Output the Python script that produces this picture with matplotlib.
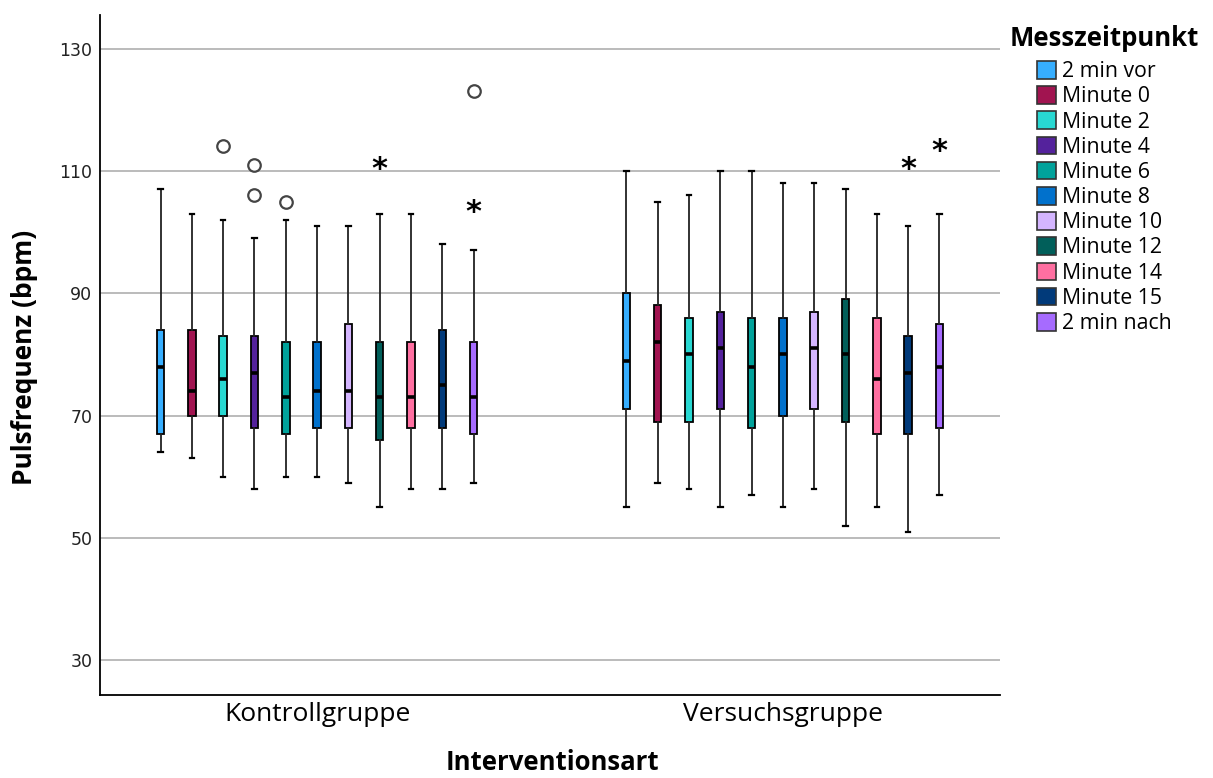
import matplotlib
matplotlib.use("Agg")
import matplotlib.pyplot as plt
from matplotlib.patches import Patch

# ---- data -------------------------------------------------------------
groups = ["Kontrollgruppe", "Versuchsgruppe"]
timepoints = ["2 min vor", "Minute 0", "Minute 2", "Minute 4", "Minute 6",
              "Minute 8", "Minute 10", "Minute 12", "Minute 14",
              "Minute 15", "2 min nach"]
colors = ["#36AEFF", "#A11450", "#28D8D2", "#54229C", "#01A29B",
          "#0171CC", "#D4B5FF", "#015F5A", "#FF6FA1", "#013A7A", "#A66BFF"]

# Kontrollgruppe: whisker low, Q1, median, Q3, whisker high
kg_low = [64, 63, 60, 58, 60, 60, 59, 55, 58, 58, 59]
kg_q1 = [67, 70, 70, 68, 67, 68, 68, 66, 68, 68, 67]
kg_med = [78, 74, 76, 77, 73, 74, 74, 73, 73, 75, 73]
kg_q3 = [84, 84, 83, 83, 82, 82, 85, 82, 82, 84, 82]
kg_high = [107, 103, 102, 99, 102, 101, 101, 103, 103, 98, 97]

# Versuchsgruppe
vg_low = [55, 59, 58, 55, 57, 55, 58, 52, 55, 51, 57]
vg_q1 = [71, 69, 69, 71, 68, 70, 71, 69, 67, 67, 68]
vg_med = [79, 82, 80, 81, 78, 80, 81, 80, 76, 77, 78]
vg_q3 = [90, 88, 86, 87, 86, 86, 87, 89, 86, 83, 85]
vg_high = [110, 105, 106, 110, 110, 108, 108, 107, 103, 101, 103]

# outliers (circles) and extreme values (asterisks): (group, timepoint index, value)
outliers = [(0, 2, 114), (0, 3, 111), (0, 3, 106), (0, 4, 105), (0, 10, 123)]
extremes = [(0, 7, 111), (0, 10, 104), (1, 9, 111), (1, 10, 114)]

yticks = [30, 50, 70, 90, 110, 130]

# ---- figure -----------------------------------------------------------
fig = plt.figure(figsize=(12.13, 7.78), dpi=100)
ax = fig.add_axes([100 / 1213, 1 - 695 / 778, 900 / 1213, 680 / 778])

step = 0.0672
box_w = 0.016

def pos(g, i):
    return g + (i - (len(timepoints) - 1) / 2) * step

stats_by_group = [
    (kg_low, kg_q1, kg_med, kg_q3, kg_high),
    (vg_low, vg_q1, vg_med, vg_q3, vg_high),
]

for g, (lo, q1, med, q3, hi) in enumerate(stats_by_group):
    for i in range(len(timepoints)):
        st = [dict(whislo=lo[i], q1=q1[i], med=med[i], q3=q3[i],
                   whishi=hi[i], fliers=[])]
        ax.bxp(st, positions=[pos(g, i)], widths=box_w, patch_artist=True,
               showfliers=False, manage_ticks=False,
               boxprops=dict(facecolor=colors[i], edgecolor="black", linewidth=1.3),
               medianprops=dict(color="black", linewidth=2.6, solid_capstyle="butt"),
               whiskerprops=dict(color="#222222", linewidth=1.3),
               capprops=dict(color="black", linewidth=1.6),
               capwidths=box_w * 0.6, zorder=3)

for g, i, v in outliers:
    ax.plot(pos(g, i), v, marker="o", markersize=9, markerfacecolor="white",
            markeredgecolor="#444444", markeredgewidth=1.6, linestyle="none", zorder=4)
for g, i, v in extremes:
    ax.text(pos(g, i), v - 0.8, "*", ha="center", va="center", fontsize=22,
            fontweight="bold", family="DejaVu Sans", zorder=4)

# ---- axes styling -----------------------------------------------------
ax.set_xlim(-0.466, 1.466)
ax.set_ylim(24.3, 135.5)
ax.set_yticks(yticks)
ax.set_yticklabels([str(t) for t in yticks], fontsize=12.5, color="#222222",
                   family="DejaVu Sans")
ax.tick_params(axis="y", length=0, pad=5.5)
ax.set_xticks([0, 1])
ax.set_xticklabels(groups, fontsize=19, family="Open Sans")
ax.tick_params(axis="x", length=0, pad=5)
ax.yaxis.grid(True, color="#B5B5B5", linewidth=1.3)
ax.set_axisbelow(True)
for s in ["top", "right"]:
    ax.spines[s].set_visible(False)
for s in ["left", "bottom"]:
    ax.spines[s].set_color("black")
    ax.spines[s].set_linewidth(1.3)

fig.text(25 / 1213, 1 - 357 / 778, "Pulsfrequenz (bpm)", rotation=90,
         ha="center", va="center", fontsize=19, fontweight="bold",
         family="Open Sans")
fig.text(552 / 1213, 1 - 776 / 778, "Interventionsart", ha="center",
         va="bottom", fontsize=18.5, fontweight="bold", family="Open Sans")

# ---- legend -----------------------------------------------------------
fig.text(1010 / 1213, 1 - 39 / 778, "Messzeitpunkt", ha="left", va="center",
         fontsize=18.5, fontweight="bold", family="Open Sans")
handles = [Patch(facecolor=c, edgecolor="#333333", linewidth=1.2, label=t)
           for c, t in zip(colors, timepoints)]
fig.legend(handles=handles, loc="upper left",
           bbox_to_anchor=(1037 / 1213, 1 - 61 / 778), frameon=False,
           prop=dict(family="Open Sans", size=15.3), handlelength=0.9,
           handleheight=0.9, handletextpad=0.28, labelspacing=0.19,
           borderaxespad=0, borderpad=0)

fig.savefig("out.png", dpi=100)
